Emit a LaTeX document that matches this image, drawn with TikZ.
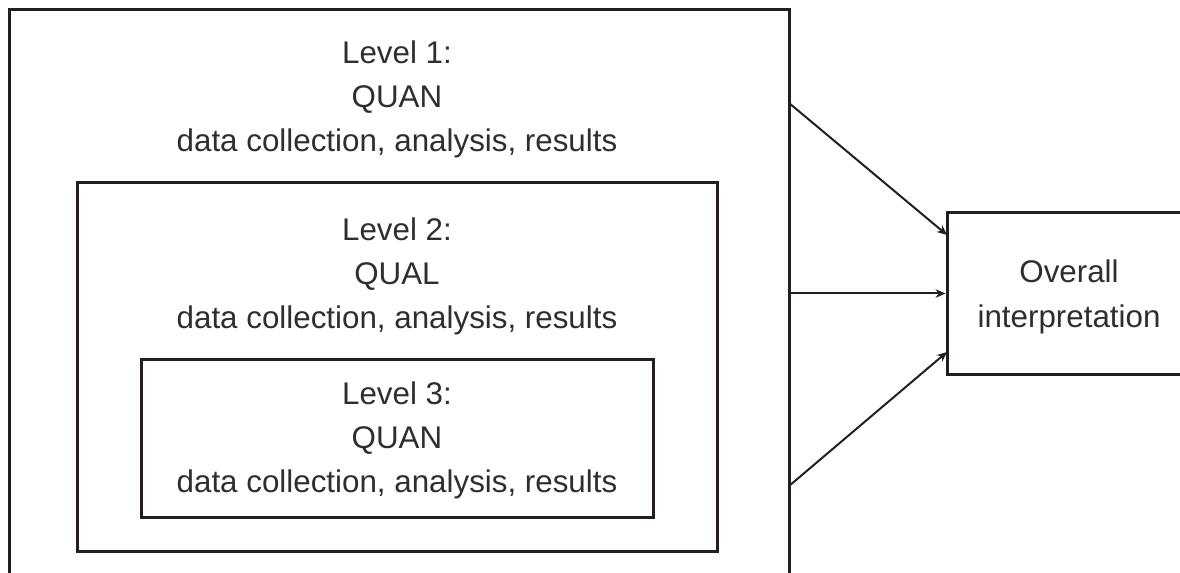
\documentclass[tikz,border=0pt]{standalone}
\usepackage{fontspec}
\setmainfont{Liberation Sans}
\usetikzlibrary{arrows.meta,fit}
\definecolor{ink}{HTML}{231F20}
\definecolor{txt}{HTML}{2E2E2E}
\begin{document}
\begin{tikzpicture}[x=0.75pt,y=-0.75pt,
  box/.style={draw=ink,line width=2.25pt,inner sep=0pt},
  lbl/.style={text=txt,anchor=base,inner sep=0pt,font=\fontsize{23.5pt}{33pt}\selectfont},
  arr/.style={draw=ink,line width=1.5pt,-{Stealth[length=7.5pt,width=6.5pt]}}]
\useasboundingbox (0,0) rectangle (1180,573);
\clip (0,0) rectangle (1180,573);
% box corners
\coordinate (o1) at (9,10);   \coordinate (o2) at (789,640);
\coordinate (m1) at (77,183); \coordinate (m2) at (717,551);
\coordinate (i1) at (141,359);\coordinate (i2) at (653,517);
\coordinate (v1) at (947,213);\coordinate (v2) at (1220,374);
\node[box,fit=(o1)(o2)] (outer) {};
\node[box,fit=(m1)(m2)] (middle) {};
\node[box,fit=(i1)(i2)] (inner) {};
\node[box,fit=(v1)(v2)] (overall) {};
% texts
\node[lbl] (l1a) at (397,64)  {Level 1:};
\node[lbl] (l1b) at (397,108) {QUAN};
\node[lbl] (l1c) at (397,152) {data collection, analysis, results};
\node[lbl] (l2a) at (397,241) {Level 2:};
\node[lbl] (l2b) at (397,285) {QUAL};
\node[lbl] (l2c) at (397,329) {data collection, analysis, results};
\node[lbl] (l3a) at (397,404) {Level 3:};
\node[lbl] (l3b) at (397,448) {QUAN};
\node[lbl] (l3c) at (397,492) {data collection, analysis, results};
\node[lbl] (ova) at (1069,282) {Overall};
\node[lbl] (ovb) at (1069,327) {interpretation};
% arrow end points
\coordinate (s1) at (789,103);  \coordinate (e1) at (947,235);
\coordinate (s3) at (789,486);  \coordinate (e3) at (947,352);
\draw[arr] (s1) -- (e1);
\draw[arr] (outer.east |- overall.west) -- (overall.west);
\draw[arr] (s3) -- (e3);
\end{tikzpicture}
\end{document}
